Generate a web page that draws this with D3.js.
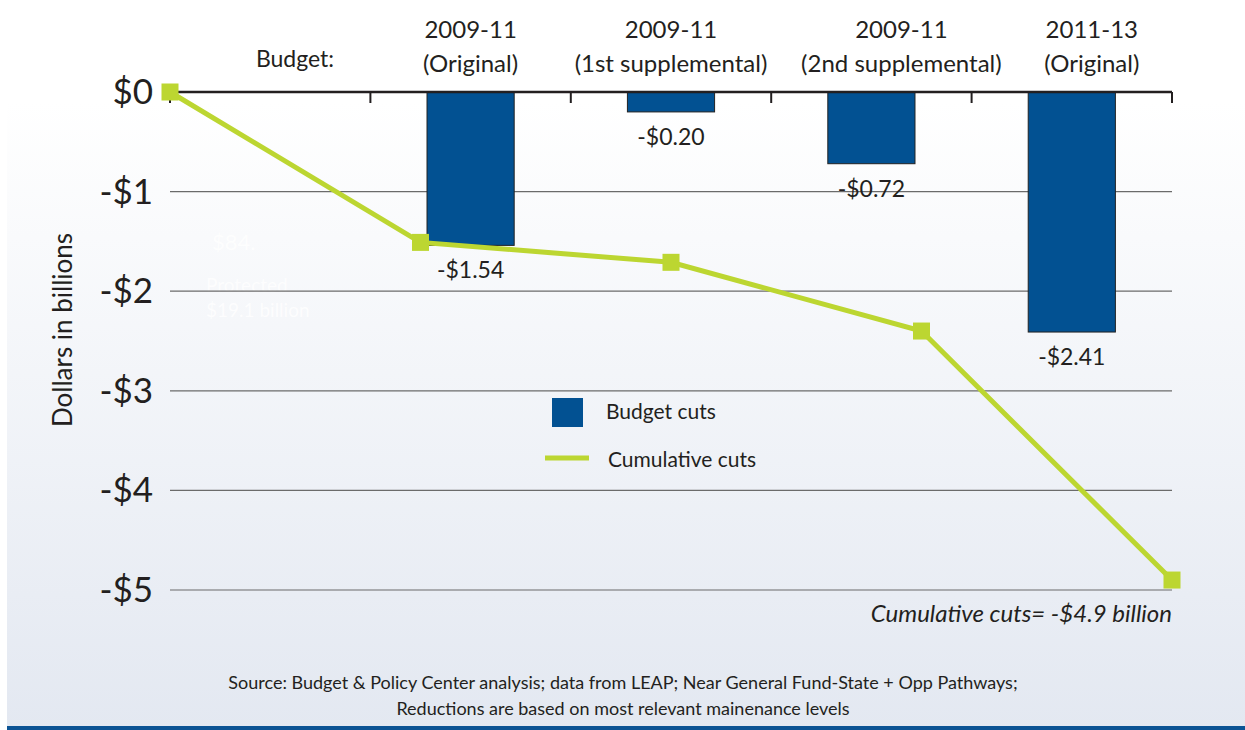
<!DOCTYPE html>
<html><head><meta charset="utf-8">
<script src="https://cdn.jsdelivr.net/npm/d3@7"></script>
<style>body{margin:0;background:#fff}svg{display:block;font-family:Lato,"Open Sans",sans-serif}</style>
</head><body><svg id="c" width="1245" height="730"></svg>
<script>
const categoriesLine1 = ["2009-11", "2009-11", "2009-11", "2011-13"];
const categoriesLine2 = ["(Original)", "(1st supplemental)", "(2nd supplemental)", "(Original)"];
const budgetCuts = [-1.54, -0.20, -0.72, -2.41];
const budgetLabels = ["-$1.54", "-$0.20", "-$0.72", "-$2.41"];
const cumulativeSteps = ["start", "b1", "b2", "b3", "b4"];
const cumulativeCuts = [0, -1.51, -1.71, -2.40, -4.90];
const yTicks = [0, -1, -2, -3, -4, -5];
const yTickLabels = ["$0", "-$1", "-$2", "-$3", "-$4", "-$5"];

const svg = d3.select("#c");
const W = 1245, H = 730;
const L = 170, R = 1172, T = 92, B = 590;
// header label horizontal nudges (layout only)
const headerShift = [0, 0, 30, 20];

const defs = svg.append("defs");
const g1 = defs.append("linearGradient").attr("id","bg").attr("x1",0).attr("y1",0).attr("x2",0).attr("y2",1);
g1.append("stop").attr("offset","0%").attr("stop-color","#ffffff");
g1.append("stop").attr("offset","14%").attr("stop-color","#ffffff");
g1.append("stop").attr("offset","100%").attr("stop-color","#e3e8f1");
svg.append("rect").attr("x",7).attr("y",0).attr("width",W-7).attr("height",H).attr("fill","url(#bg)");
svg.append("rect").attr("x",7).attr("y",726).attr("width",W-7).attr("height",4).attr("fill","#0b5394");

const y = d3.scaleLinear().domain([0,-5]).range([T,B]);
const bandKeys = ["origin"].concat(budgetCuts.map((d,i)=>"c"+i));
const xb = d3.scaleBand().domain(bandKeys).range([L,R]).paddingInner(0.565).paddingOuter(0.2825);
const xp = d3.scalePoint().domain(cumulativeSteps).range([L,R]);
const cx = i => xb("c"+i) + xb.bandwidth()/2;

// faint hidden text
const faint = svg.append("g").attr("fill","#ffffff").attr("font-size",19).attr("opacity",0.8);
faint.append("text").attr("x",212).attr("y",250).attr("font-size",22).text("$84.");
faint.append("text").attr("x",206).attr("y",292).text("Protected");
faint.append("text").attr("x",206).attr("y",317).text("$19.1 billion");

// gridlines
svg.append("g").selectAll("line").data(yTicks.slice(1)).join("line")
  .attr("x1",L).attr("x2",R).attr("y1",d=>y(d)).attr("y2",d=>y(d))
  .attr("stroke","#6b6b6b").attr("stroke-width",1.2);

// y labels
svg.append("g").selectAll("text").data(yTicks).join("text")
  .attr("x",153).attr("y",d=>y(d)+12).attr("text-anchor","end")
  .attr("font-size",35).attr("fill","#231f20")
  .text((d,i)=>yTickLabels[i]);

svg.append("text").attr("transform","translate(72,330) rotate(-90)")
  .attr("text-anchor","middle").attr("font-size",26).attr("fill","#231f20").text("Dollars in billions");

// bars
svg.append("g").selectAll("rect").data(budgetCuts).join("rect")
  .attr("x",(d,i)=>xb("c"+i)).attr("width",xb.bandwidth())
  .attr("y",y(0)).attr("height",d=>y(d)-y(0))
  .attr("fill","#025192").attr("stroke","#222").attr("stroke-width",1);

// bar labels
svg.append("g").selectAll("text").data(budgetCuts).join("text")
  .attr("x",(d,i)=>cx(i)).attr("y",d=>y(d)+33)
  .attr("text-anchor","middle").attr("font-size",23).attr("fill","#231f20")
  .text((d,i)=>budgetLabels[i]);

// zero axis
const ax = svg.append("g");
ax.append("line").attr("x1",L).attr("x2",R).attr("y1",y(0)).attr("y2",y(0)).attr("stroke","#231f20").attr("stroke-width",2.5);
const boundaries = [L].concat(bandKeys.slice(1).map(k=>xb(k)-xb.step()*xb.paddingInner()/2), [R]);
ax.selectAll(".tk").data(boundaries).join("line").attr("class","tk")
  .attr("x1",d=>d).attr("x2",d=>d).attr("y1",y(0)).attr("y2",y(0)+11)
  .attr("stroke","#231f20").attr("stroke-width",2);

// category labels
const cl = svg.append("g").attr("font-size",24).attr("fill","#231f20").attr("text-anchor","middle");
cl.selectAll(".l1").data(categoriesLine1).join("text").attr("class","l1")
  .attr("x",(d,i)=>cx(i)+headerShift[i]).attr("y",38).text(d=>d);
cl.selectAll(".l2").data(categoriesLine2).join("text").attr("class","l2")
  .attr("x",(d,i)=>cx(i)+headerShift[i]).attr("y",72).text(d=>d);
cl.append("text").attr("x",295).attr("y",67).attr("font-size",23).text("Budget:");

// cumulative line
const line = d3.line().x((d,i)=>xp(cumulativeSteps[i])).y(d=>y(d));
svg.append("path").datum(cumulativeCuts).attr("d",line)
  .attr("fill","none").attr("stroke","#bcd631").attr("stroke-width",5);
svg.append("g").selectAll("rect").data(cumulativeCuts).join("rect")
  .attr("x",(d,i)=>xp(cumulativeSteps[i])-8.5).attr("y",d=>y(d)-8.5)
  .attr("width",17).attr("height",17).attr("fill","#bcd631");

// legend
const lg = svg.append("g").attr("font-size",21).attr("fill","#231f20");
lg.append("rect").attr("x",552).attr("y",398).attr("width",31).attr("height",29).attr("fill","#025192");
lg.append("text").attr("x",606).attr("y",419).text("Budget cuts");
lg.append("line").attr("x1",545).attr("x2",589).attr("y1",458).attr("y2",458).attr("stroke","#bcd631").attr("stroke-width",5);
lg.append("text").attr("x",608).attr("y",467).text("Cumulative cuts");

// annotation
svg.append("text").attr("x",R).attr("y",622).attr("text-anchor","end")
  .attr("font-size",24).attr("font-style","italic").attr("fill","#231f20")
  .text("Cumulative cuts= -$4.9 billion");

// source
const src = svg.append("g").attr("font-size",18).attr("fill","#231f20").attr("text-anchor","middle");
src.append("text").attr("x",623).attr("y",689).text("Source: Budget & Policy Center analysis; data from LEAP; Near General Fund-State + Opp Pathways;");
src.append("text").attr("x",623).attr("y",715).text("Reductions are based on most relevant mainenance levels");
</script></body></html>
